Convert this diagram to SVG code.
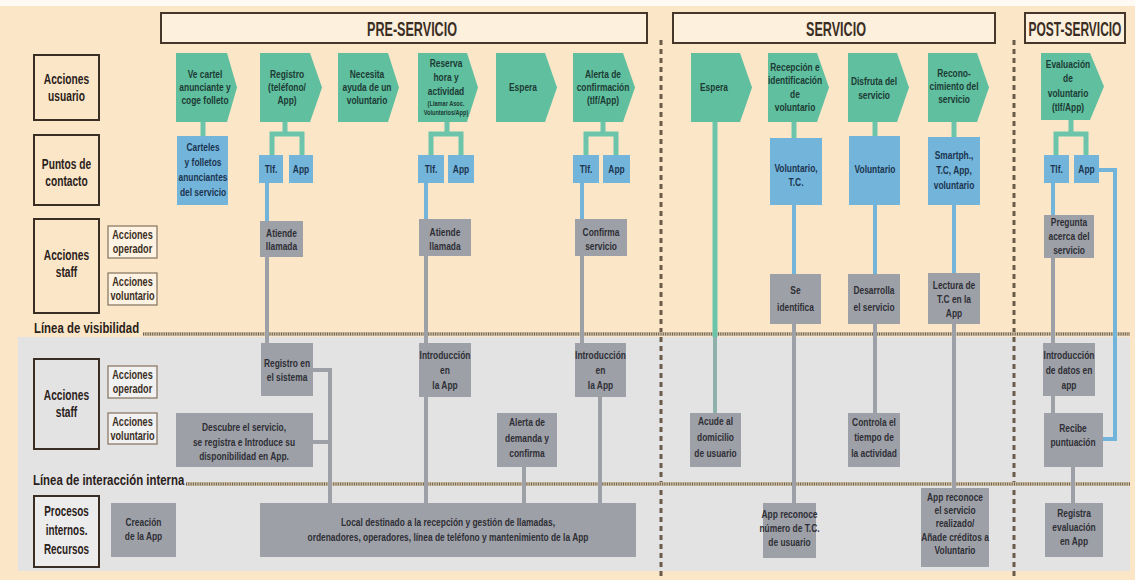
<svg xmlns="http://www.w3.org/2000/svg" width="1135" height="580" viewBox="0 0 1135 580">
<style>
.t{font-family:"Liberation Sans",Arial,sans-serif;font-weight:bold;font-size:10.5px;text-anchor:middle}
.tp{fill:#1d3b34}
.tb{fill:#1b3550}
.tg{fill:#2e2f35}
.lbl{font-size:15px;fill:#2a211a}
.sl{font-size:12px;fill:#3a2e24}
.hd{font-size:21px;fill:#3a2e24}
.ln{font-size:15px;fill:#2a211a;text-anchor:start}
.pent{fill:#5FBF9F}
.blue{fill:#73B4DA}
.gray{fill:#9EA0A8}
.lb{fill:none;stroke:#3a2e24;stroke-width:2}
.lbg{fill:#ECECEC;stroke:#3a2e24;stroke-width:2}
.sb{fill:#FEF3E2;stroke:#8b7a66;stroke-width:1.3}
.sbg{fill:#F1F1F1;stroke:#8b7a66;stroke-width:1.3}
.hdr{fill:#FDF0DD;stroke:#45372a;stroke-width:2}
.ct{stroke:#6CC4AB;stroke-width:5;fill:none}
.cb{stroke:#73B4DA;stroke-width:4;fill:none}
.cg{stroke:#9EA0A8;stroke-width:4;fill:none}
.div{stroke:#6b5b4b;stroke-width:3;stroke-dasharray:5 4;fill:none}
.dotbg{stroke:#d3c3a6;stroke-width:4}
.dot{stroke:#6d6050;stroke-width:3;stroke-dasharray:1 1.3}
</style>

<g id="background">
<rect x="0" y="0" width="1135" height="580" fill="#FBE7C8"/>
<rect x="0" y="0" width="1135" height="6" fill="#FFFBF4"/>
<rect x="18" y="337" width="1112" height="234" fill="#E3E3E4"/>
</g>

<g id="dividers">
<line class="div" x1="661" y1="40" x2="661" y2="580"/>
<line class="div" x1="1014" y1="40" x2="1014" y2="580"/>
</g>

<g id="lines">
<line class="dotbg" x1="143" y1="334" x2="1130" y2="334"/>
<line class="dot" x1="143" y1="334" x2="1130" y2="334"/>
<text class="t ln" transform="translate(34,0) scale(.76,1)" x="0" y="333">Línea de visibilidad</text>
<line class="dotbg" x1="186" y1="484" x2="1130" y2="484"/>
<line class="dot" x1="186" y1="484" x2="1130" y2="484"/>
<text class="t ln" transform="translate(33,0) scale(.76,1)" x="0" y="485">Línea de interacción interna</text>
</g>

<g id="headers">
<g id="h-pre"><rect class="hdr" x="161" y="13" width="486" height="30"/><text class="t hd" transform="translate(412,0) scale(.6,1)" x="0" y="36">PRE-SERVICIO</text></g>
<g id="h-serv"><rect class="hdr" x="673" y="13" width="322" height="30"/><text class="t hd" transform="translate(836,0) scale(.6,1)" x="0" y="36">SERVICIO</text></g>
<g id="h-post"><rect class="hdr" x="1025" y="13" width="100" height="30"/><text class="t hd" transform="translate(1075,0) scale(.57,1)" x="0" y="36">POST-SERVICIO</text></g>
</g>

<g id="labels">
<g id="l-usuario"><rect class="lb" x="34" y="55" width="65" height="65"/><text class="t lbl" transform="translate(66.5,0) scale(.68,1)"><tspan x="0" y="84">Acciones</tspan><tspan x="0" y="101">usuario</tspan></text></g>
<g id="l-contacto"><rect class="lb" x="34" y="135" width="65" height="70"/><text class="t lbl" transform="translate(66.5,0) scale(.68,1)"><tspan x="0" y="169">Puntos de</tspan><tspan x="0" y="186">contacto</tspan></text></g>
<g id="l-staff1"><rect class="lb" x="34" y="219" width="65" height="94"/><text class="t lbl" transform="translate(66.5,0) scale(.68,1)"><tspan x="0" y="260">Acciones</tspan><tspan x="0" y="277">staff</tspan></text></g>
<g id="l-op1"><rect class="sb" x="108" y="226" width="49" height="32"/><text class="t sl" transform="translate(132.5,0) scale(.76,1)"><tspan x="0" y="239">Acciones</tspan><tspan x="0" y="253">operador</tspan></text></g>
<g id="l-vol1"><rect class="sb" x="108" y="273" width="49" height="32"/><text class="t sl" transform="translate(132.5,0) scale(.76,1)"><tspan x="0" y="286">Acciones</tspan><tspan x="0" y="300">voluntario</tspan></text></g>
<g id="l-staff2"><rect class="lb" x="34" y="359" width="65" height="90"/><text class="t lbl" transform="translate(66.5,0) scale(.68,1)"><tspan x="0" y="400">Acciones</tspan><tspan x="0" y="417">staff</tspan></text></g>
<g id="l-op2"><rect class="sbg" x="108" y="366" width="49" height="32"/><text class="t sl" transform="translate(132.5,0) scale(.76,1)"><tspan x="0" y="379">Acciones</tspan><tspan x="0" y="393">operador</tspan></text></g>
<g id="l-vol2"><rect class="sbg" x="108" y="413" width="49" height="31"/><text class="t sl" transform="translate(132.5,0) scale(.76,1)"><tspan x="0" y="426">Acciones</tspan><tspan x="0" y="440">voluntario</tspan></text></g>
<g id="l-procesos"><rect class="lbg" x="34" y="496" width="65" height="71"/><text class="t lbl" transform="translate(66.5,0) scale(.66,1)"><tspan x="0" y="516">Procesos</tspan><tspan x="0" y="535">internos.</tspan><tspan x="0" y="554">Recursos</tspan></text></g>
</g>

<g id="connectors">
<path class="ct" d="M203,122V136"/>
<path class="ct" d="M285,122V134M272,155V134H302V155"/>
<path class="ct" d="M447,122V134M431,155V134H461V155"/>
<path class="ct" d="M603,122V134M586,155V134H616V155"/>
<path class="ct" d="M715,122V337"/>
<path d="M715,337V413" stroke="#8fb1ab" stroke-width="4" fill="none"/>
<path class="ct" d="M794,122V138"/>
<path class="ct" d="M875,122V136"/>
<path class="ct" d="M954,122V137"/>
<path class="ct" d="M1071,120V134M1056,155V134H1086V155"/>
<path class="cb" d="M267,183V221"/>
<path class="cb" d="M426,183V219"/>
<path class="cb" d="M582,183V219"/>
<path class="cb" d="M794,205V274"/>
<path class="cb" d="M875,205V274"/>
<path class="cb" d="M954,205V273"/>
<path class="cb" d="M1053,183V215"/>
<path class="cb" d="M1099,170H1115V439H1103"/>
<path class="cg" d="M267,257V343"/>
<path class="cg" d="M313,370H330V503M313,442H330"/>
<path class="cg" d="M426,256V343M426,397V503"/>
<path class="cg" d="M524,467V503"/>
<path class="cg" d="M582,256V343"/>
<path class="cg" d="M600,397V503"/>
<path class="cg" d="M794,324V503"/>
<path class="cg" d="M875,324V413"/>
<path class="cg" d="M954,324V488"/>
<path class="cg" d="M1053,258V343M1053,396V413"/>
<path class="cg" d="M1073,467V503"/>
</g>

<g id="nodes">
<g id="u1"><path class="pent" d="M176,53H227L237,87.5L227,122H176Z"/><text class="t tp" transform="translate(205,0) scale(.8,1)"><tspan x="0" y="78">Ve cartel</tspan><tspan x="0" y="91">anunciante y</tspan><tspan x="0" y="104">coge folleto</tspan></text></g>
<g id="u2"><path class="pent" d="M260,53H310L322,87.5L310,122H260Z"/><text class="t tp" transform="translate(287,0) scale(.8,1)"><tspan x="0" y="78">Registro</tspan><tspan x="0" y="91">(teléfono/</tspan><tspan x="0" y="104">App)</tspan></text></g>
<g id="u3"><path class="pent" d="M338,53H388L399,87.5L388,122H338Z"/><text class="t tp" transform="translate(367,0) scale(.8,1)"><tspan x="0" y="78">Necesita</tspan><tspan x="0" y="91">ayuda de un</tspan><tspan x="0" y="104">voluntario</tspan></text></g>
<g id="u4"><path class="pent" d="M418,53H467L478,87.5L467,122H418Z"/><text class="t tp" transform="translate(446,0) scale(.8,1)"><tspan x="0" y="67">Reserva</tspan><tspan x="0" y="81">hora y</tspan><tspan x="0" y="95">actividad</tspan><tspan x="0" y="106" font-size="7">(Llamar Asoc.</tspan><tspan x="0" y="115" font-size="7">Voluntarios/App)</tspan></text></g>
<g id="u5"><path class="pent" d="M496,53H545L557,87.5L545,122H496Z"/><text class="t tp" transform="translate(523,0) scale(.8,1)" x="0" y="91">Espera</text></g>
<g id="u6"><path class="pent" d="M573,53H623L635,87.5L623,122H573Z"/><text class="t tp" transform="translate(603,0) scale(.8,1)"><tspan x="0" y="78">Alerta de</tspan><tspan x="0" y="91">confirmación</tspan><tspan x="0" y="104">(tlf/App)</tspan></text></g>
<g id="u7"><path class="pent" d="M691,53H740L752,87.5L740,122H691Z"/><text class="t tp" transform="translate(714,0) scale(.8,1)" x="0" y="91">Espera</text></g>
<g id="u8"><path class="pent" d="M768,53H817L829,87.5L817,122H768Z"/><text class="t tp" transform="translate(795,0) scale(.8,1)"><tspan x="0" y="71">Recepción e</tspan><tspan x="0" y="84.5">identificación</tspan><tspan x="0" y="98">de</tspan><tspan x="0" y="111.5">voluntario</tspan></text></g>
<g id="u9"><path class="pent" d="M848,53H897L909,87.5L897,122H848Z"/><text class="t tp" transform="translate(874,0) scale(.8,1)"><tspan x="0" y="85">Disfruta del</tspan><tspan x="0" y="99">servicio</tspan></text></g>
<g id="u10"><path class="pent" d="M928,53H977L989,87.5L977,122H928Z"/><text class="t tp" transform="translate(954,0) scale(.8,1)"><tspan x="0" y="77">Recono-</tspan><tspan x="0" y="90">cimiento del</tspan><tspan x="0" y="103">servicio</tspan></text></g>
<g id="u11"><path class="pent" d="M1041,53H1090L1104,86.5L1090,120H1041Z"/><text class="t tp" transform="translate(1068,0) scale(.8,1)"><tspan x="0" y="68">Evaluación</tspan><tspan x="0" y="82.5">de</tspan><tspan x="0" y="97">voluntario</tspan><tspan x="0" y="111.5">(tlf/App)</tspan></text></g>

<g id="c1"><rect class="blue" x="177" y="136" width="51" height="69"/><text class="t tb" transform="translate(203,0) scale(.8,1)"><tspan x="0" y="151">Carteles</tspan><tspan x="0" y="166">y folletos</tspan><tspan x="0" y="181">anunciantes</tspan><tspan x="0" y="196">del servicio</tspan></text></g>
<g id="c2a"><rect class="blue" x="259" y="155" width="24" height="28"/><text class="t tb" transform="translate(271,0) scale(.8,1)" x="0" y="173">Tlf.</text></g>
<g id="c2b"><rect class="blue" x="289" y="155" width="24" height="28"/><text class="t tb" transform="translate(301,0) scale(.8,1)" x="0" y="173">App</text></g>
<g id="c4a"><rect class="blue" x="418" y="155" width="26" height="28"/><text class="t tb" transform="translate(431,0) scale(.8,1)" x="0" y="173">Tlf.</text></g>
<g id="c4b"><rect class="blue" x="448" y="155" width="26" height="28"/><text class="t tb" transform="translate(461,0) scale(.8,1)" x="0" y="173">App</text></g>
<g id="c6a"><rect class="blue" x="573" y="155" width="26" height="28"/><text class="t tb" transform="translate(586,0) scale(.8,1)" x="0" y="173">Tlf.</text></g>
<g id="c6b"><rect class="blue" x="603" y="155" width="27" height="28"/><text class="t tb" transform="translate(616.5,0) scale(.8,1)" x="0" y="173">App</text></g>
<g id="c8"><rect class="blue" x="770" y="138" width="52" height="67"/><text class="t tb" transform="translate(796,0) scale(.8,1)"><tspan x="0" y="172">Voluntario,</tspan><tspan x="0" y="186">T.C.</tspan></text></g>
<g id="c9"><rect class="blue" x="849" y="136" width="51" height="69"/><text class="t tb" transform="translate(875,0) scale(.8,1)" x="0" y="173">Voluntario</text></g>
<g id="c10"><rect class="blue" x="928" y="137" width="52" height="68"/><text class="t tb" transform="translate(954,0) scale(.8,1)"><tspan x="0" y="159">Smartph.,</tspan><tspan x="0" y="174">T.C, App,</tspan><tspan x="0" y="189">voluntario</tspan></text></g>
<g id="c11a"><rect class="blue" x="1044" y="155" width="25" height="28"/><text class="t tb" transform="translate(1056.5,0) scale(.8,1)" x="0" y="173">Tlf.</text></g>
<g id="c11b"><rect class="blue" x="1074" y="155" width="25" height="28"/><text class="t tb" transform="translate(1086.5,0) scale(.8,1)" x="0" y="173">App</text></g>

<g id="o1"><rect class="gray" x="260" y="221" width="43" height="36"/><text class="t tg" transform="translate(281.5,0) scale(.8,1)"><tspan x="0" y="237">Atiende</tspan><tspan x="0" y="250">llamada</tspan></text></g>
<g id="o2"><rect class="gray" x="419" y="219" width="52" height="37"/><text class="t tg" transform="translate(445,0) scale(.8,1)"><tspan x="0" y="236">Atiende</tspan><tspan x="0" y="250">llamada</tspan></text></g>
<g id="o3"><rect class="gray" x="575" y="219" width="52" height="37"/><text class="t tg" transform="translate(601,0) scale(.8,1)"><tspan x="0" y="236">Confirma</tspan><tspan x="0" y="250">servicio</tspan></text></g>
<g id="v1"><rect class="gray" x="770" y="274" width="51" height="50"/><text class="t tg" transform="translate(795.5,0) scale(.8,1)"><tspan x="0" y="294">Se</tspan><tspan x="0" y="311">identifica</tspan></text></g>
<g id="v2"><rect class="gray" x="848" y="274" width="52" height="50"/><text class="t tg" transform="translate(874,0) scale(.8,1)"><tspan x="0" y="294">Desarrolla</tspan><tspan x="0" y="311">el servicio</tspan></text></g>
<g id="v3"><rect class="gray" x="928" y="273" width="52" height="51"/><text class="t tg" transform="translate(954,0) scale(.8,1)"><tspan x="0" y="289">Lectura de</tspan><tspan x="0" y="303">T.C en la</tspan><tspan x="0" y="317">App</tspan></text></g>
<g id="o4"><rect class="gray" x="1044" y="215" width="50" height="43"/><text class="t tg" transform="translate(1069,0) scale(.8,1)"><tspan x="0" y="226">Pregunta</tspan><tspan x="0" y="240">acerca del</tspan><tspan x="0" y="254">servicio</tspan></text></g>

<g id="i1"><rect class="gray" x="261" y="343" width="52" height="53"/><text class="t tg" transform="translate(287,0) scale(.8,1)"><tspan x="0" y="367">Registro en</tspan><tspan x="0" y="381">el sistema</tspan></text></g>
<g id="i2"><rect class="gray" x="176" y="413" width="137" height="54"/><text class="t tg" transform="translate(244,0) scale(.8,1)"><tspan x="0" y="431">Descubre el servicio,</tspan><tspan x="0" y="446">se registra e Introduce su</tspan><tspan x="0" y="460">disponibilidad en App.</tspan></text></g>
<g id="i3"><rect class="gray" x="419" y="343" width="52" height="54"/><text class="t tg" transform="translate(445,0) scale(.8,1)"><tspan x="0" y="359">Introducción</tspan><tspan x="0" y="374">en</tspan><tspan x="0" y="389">la App</tspan></text></g>
<g id="i4"><rect class="gray" x="497" y="413" width="60" height="54"/><text class="t tg" transform="translate(527,0) scale(.8,1)"><tspan x="0" y="426">Alerta de</tspan><tspan x="0" y="442">demanda y</tspan><tspan x="0" y="457">confirma</tspan></text></g>
<g id="i5"><rect class="gray" x="575" y="343" width="51" height="54"/><text class="t tg" transform="translate(600.5,0) scale(.8,1)"><tspan x="0" y="359">Introducción</tspan><tspan x="0" y="374">en</tspan><tspan x="0" y="389">la App</tspan></text></g>
<g id="i6"><rect class="gray" x="690" y="413" width="51" height="54"/><text class="t tg" transform="translate(715.5,0) scale(.8,1)"><tspan x="0" y="425">Acude al</tspan><tspan x="0" y="441">domicilio</tspan><tspan x="0" y="457">de usuario</tspan></text></g>
<g id="i7"><rect class="gray" x="848" y="413" width="52" height="54"/><text class="t tg" transform="translate(874,0) scale(.8,1)"><tspan x="0" y="426">Controla el</tspan><tspan x="0" y="441">tiempo de</tspan><tspan x="0" y="457">la actividad</tspan></text></g>
<g id="i8"><rect class="gray" x="1043" y="343" width="52" height="53"/><text class="t tg" transform="translate(1069,0) scale(.8,1)"><tspan x="0" y="359">Introducción</tspan><tspan x="0" y="374">de datos en</tspan><tspan x="0" y="389">app</tspan></text></g>
<g id="i9"><rect class="gray" x="1044" y="413" width="59" height="54"/><text class="t tg" transform="translate(1073,0) scale(.8,1)"><tspan x="0" y="432">Recibe</tspan><tspan x="0" y="446">puntuación</tspan></text></g>

<g id="p1"><rect class="gray" x="111" y="503" width="65" height="54"/><text class="t tg" transform="translate(143.5,0) scale(.8,1)"><tspan x="0" y="526">Creación</tspan><tspan x="0" y="540">de la App</tspan></text></g>
<g id="p2"><rect class="gray" x="260" y="503" width="376" height="54"/><text class="t tg" transform="translate(448,0) scale(.8,1)"><tspan x="0" y="526">Local destinado a la recepción y gestión de llamadas,</tspan><tspan x="0" y="541">ordenadores, operadores, línea de teléfono y mantenimiento de la App</tspan></text></g>
<g id="p3"><rect class="gray" x="763" y="503" width="53" height="55"/><text class="t tg" transform="translate(789.5,0) scale(.8,1)"><tspan x="0" y="518">App reconoce</tspan><tspan x="0" y="532">número de T.C.</tspan><tspan x="0" y="546">de usuario</tspan></text></g>
<g id="p4"><rect class="gray" x="921" y="488" width="68" height="79"/><text class="t tg" transform="translate(955,0) scale(.8,1)"><tspan x="0" y="501">App reconoce</tspan><tspan x="0" y="514">el servicio</tspan><tspan x="0" y="527">realizado/</tspan><tspan x="0" y="541">Añade créditos a</tspan><tspan x="0" y="554">Voluntario</tspan></text></g>
<g id="p5"><rect class="gray" x="1045" y="503" width="58" height="54"/><text class="t tg" transform="translate(1074,0) scale(.8,1)"><tspan x="0" y="517">Registra</tspan><tspan x="0" y="531">evaluación</tspan><tspan x="0" y="545">en App</tspan></text></g>
</g>
</svg>
